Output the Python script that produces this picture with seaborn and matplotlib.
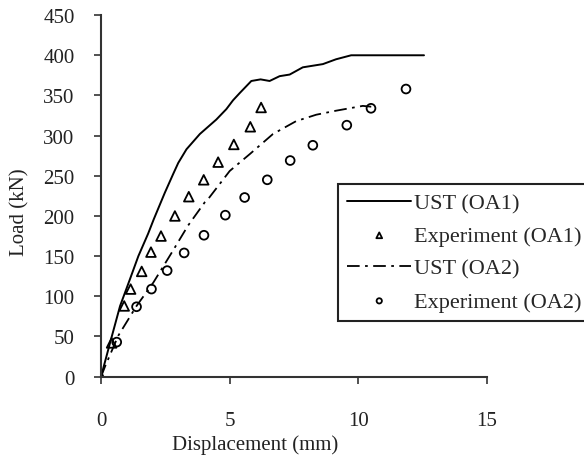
import numpy as np
import pandas as pd
import seaborn as sns
from matplotlib import pyplot as plt

# UST (OA1) curve
ust1_x = [0, 0.35, 0.74, 1.12, 1.45, 1.83, 2.05, 2.48, 2.8, 3.0, 3.32, 3.84, 4.48,
          4.87, 5.13, 5.39, 5.84, 6.2, 6.55, 6.94, 7.33, 7.84, 8.62, 9.13, 9.72, 12.55]
ust1_y = [0, 42, 88, 121, 150, 178, 196, 229, 252, 266, 283, 302, 320,
          333, 344, 353, 368, 370, 368, 374, 376, 385, 389, 395, 400, 400]

# Experiment (OA1)
exp1_x = [0, 0.41, 0.9, 1.15, 1.58, 1.94, 2.33, 2.87, 3.41, 3.99, 4.55, 5.16, 5.8, 6.22]
exp1_y = [0, 42, 88, 109, 131, 155, 175, 200, 224, 245, 267, 289, 311, 335]

# UST (OA2) curve
ust2_x = [0, 0.16, 0.67, 1.38, 2.03, 2.74, 3.38, 4.03, 4.16, 5.0, 5.78, 6.68, 7.58,
          8.36, 9.13, 10.17, 10.5]
ust2_y = [0, 13, 51, 88, 117, 154, 188, 217, 221, 256, 277, 302, 318,
          326, 331, 337, 336]

# Experiment (OA2)
exp2_x = [0.61, 1.38, 1.96, 2.57, 3.23, 4.0, 4.83, 5.58, 6.46, 7.35, 8.23, 9.55, 10.49, 11.85]
exp2_y = [43, 87, 109, 132, 154, 176, 201, 223, 245, 269, 288, 313, 334, 358]

sns.set_style("ticks")
plt.rcParams['font.family'] = ['Liberation Serif', 'DejaVu Serif']
plt.rcParams['font.size'] = 15

fig = plt.figure(figsize=(5.84, 4.6), dpi=100)
ax = fig.add_axes([0.173, 0.179, 0.661, 0.786])

sns.lineplot(x=ust1_x, y=ust1_y, sort=False, color="black", lw=1.4, ax=ax,
             label="UST (OA1)")
sns.scatterplot(x=exp1_x, y=exp1_y, marker="^", s=48, facecolor="none",
                edgecolor="black", linewidth=1.3, ax=ax, label="Experiment (OA1)")
sns.lineplot(x=ust2_x, y=ust2_y, sort=False, color="black", lw=1.3, ax=ax,
             linestyle=(0, (7, 3, 1.5, 3)), label="UST (OA2)")
sns.scatterplot(x=exp2_x, y=exp2_y, marker="o", s=40, facecolor="none",
                edgecolor="black", linewidth=1.3, ax=ax, label="Experiment (OA2)")

ax.set_xlim(0, 15)
ax.set_ylim(0, 450)
ax.set_xticks([0, 5, 10, 15])
ax.set_yticks(range(0, 451, 50))
ax.set_xlabel("Displacement (mm)", color="#222222")
ax.set_ylabel("Load (kN)", color="#222222")
ax.xaxis.set_label_coords(0.398, -0.158)
ax.yaxis.set_label_coords(-0.185, 0.458)
ax.tick_params(direction="out", length=5, width=1.2, colors="#333333",
               labelcolor="#222222", labelsize=15)
ax.tick_params(axis="y", pad=14)
ax.tick_params(axis="x", pad=20)
for side in ["left", "bottom"]:
    ax.spines[side].set_linewidth(1.5)
    ax.spines[side].set_color("#333333")
sns.despine(ax=ax)

leg = ax.legend(loc="upper left", bbox_to_anchor=(0.579, 0.598),
                bbox_transform=fig.transFigure, borderaxespad=0,
                handlelength=2.9, handletextpad=0.1, labelspacing=0.55,
                borderpad=0.4, fancybox=False, framealpha=1, fontsize=16,
                markerscale=0.6)
leg.get_frame().set_edgecolor("#222222")
leg.get_frame().set_linewidth(1.5)

fig.savefig("out.png", dpi=100)
